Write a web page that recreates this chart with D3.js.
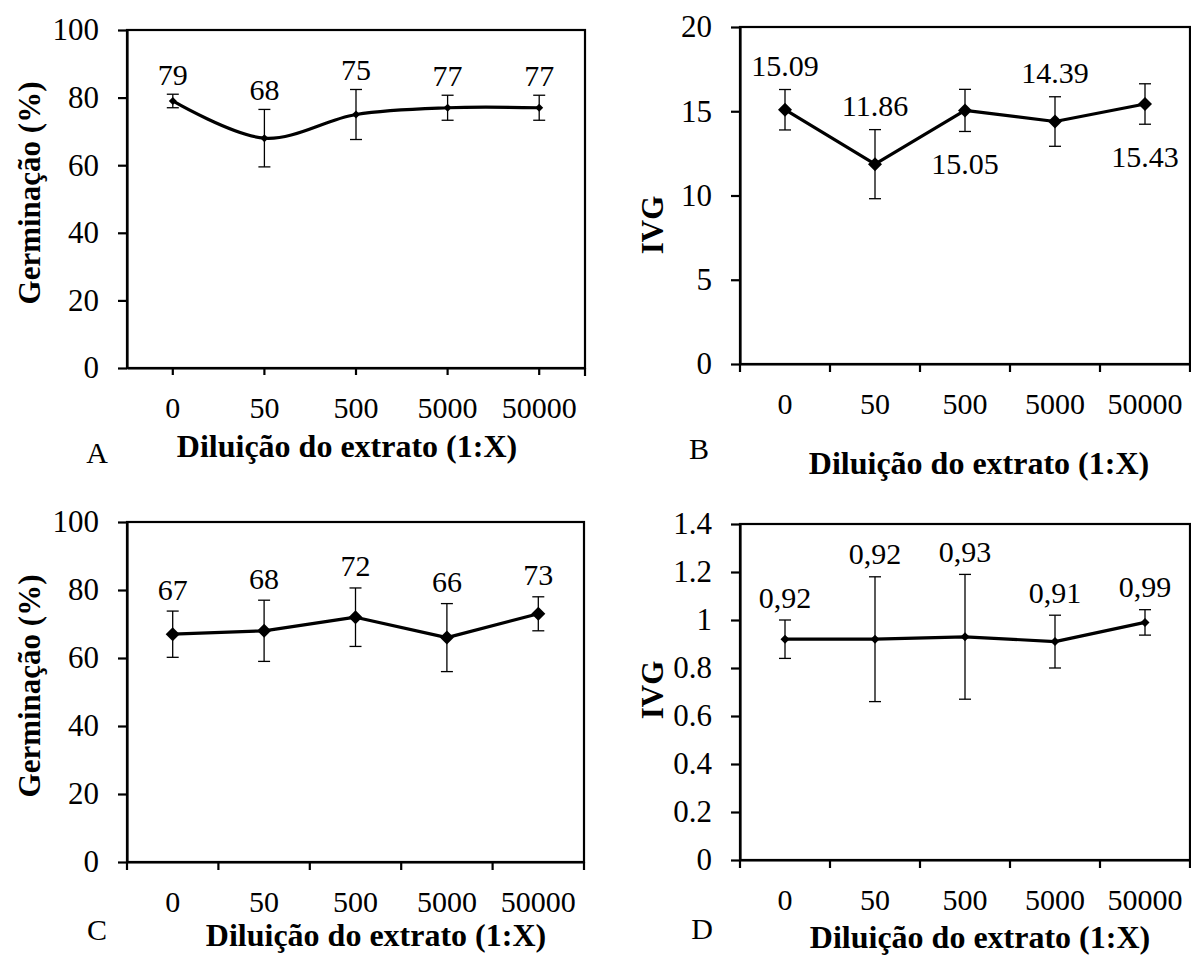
<!DOCTYPE html>
<html>
<head>
<meta charset="utf-8">
<script src="https://cdn.jsdelivr.net/npm/d3@7"></script>
<style>
  body { margin: 0; background: #fff; }
  text { font-family: "Liberation Serif", "Times New Roman", serif; fill: #000; }
</style>
</head>
<body>
<div id="chart"></div>
<script>
// categories (dilution 1:X)
const dilutions = ["0", "50", "500", "5000", "50000"];

// A - germination (%)
const germA = [79, 68, 75, 77, 77];
const germAErr = [2.0, 8.5, 7.4, 3.7, 3.7];
const germALabels = ["79", "68", "75", "77", "77"];

// B - IVG
const ivgB = [15.09, 11.86, 15.05, 14.39, 15.43];
const ivgBErr = [1.2, 2.05, 1.25, 1.47, 1.2];
const ivgBLabels = ["15.09", "11.86", "15.05", "14.39", "15.43"];
const ivgBSide = ["above", "above", "below", "above", "below"];

// C - germination (%)
const germC = [67, 68, 72, 66, 73];
const germCErr = [6.8, 9.0, 8.6, 10.0, 5.0];
const germCLabels = ["67", "68", "72", "66", "73"];

// D - IVG
const ivgD = [0.92, 0.92, 0.93, 0.91, 0.99];
const ivgDErr = [0.08, 0.26, 0.26, 0.11, 0.053];
const ivgDLabels = ["0,92", "0,92", "0,93", "0,91", "0,99"];

// y tick values
const ticksGerm = [0, 20, 40, 60, 80, 100];
const ticksIvgB = [0, 5, 10, 15, 20];
const ticksIvgD = [0, 0.2, 0.4, 0.6, 0.8, 1, 1.2, 1.4];

const xTitle = "Diluição do extrato (1:X)";

let svg = d3.select("#chart").append("svg")
    .attr("width", 1191)
    .attr("height", 956);

// panel layout
let panels = [
    {letter: "A", values: germA, err: germAErr, labels: germALabels, side: null,
     yMax: 100, ticks: ticksGerm, yTitle: "Germinação (%)",
     left: 127, right: 585, top: 30, bottom: 368,
     yTitleX: 29, yTitleY: 193, titleX: 347, titleY: 446, letterX: 97, letterY: 452,
     smooth: true, tickAtCenter: true, marker: 4, gapUp: 20, gapDown: 30},
    {letter: "B", values: ivgB, err: ivgBErr, labels: ivgBLabels, side: ivgBSide,
     yMax: 20, ticks: ticksIvgB, yTitle: "IVG",
     left: 740, right: 1190, top: 27, bottom: 364,
     yTitleX: 652, yTitleY: 225, titleX: 979, titleY: 463, letterX: 699, letterY: 448,
     smooth: false, tickAtCenter: false, marker: 7, gapUp: 24, gapDown: 32},
    {letter: "C", values: germC, err: germCErr, labels: germCLabels, side: null,
     yMax: 100, ticks: ticksGerm, yTitle: "Germinação (%)",
     left: 127, right: 584, top: 522, bottom: 862,
     yTitleX: 29, yTitleY: 686, titleX: 376, titleY: 935, letterX: 97, letterY: 929,
     smooth: false, tickAtCenter: false, marker: 7, gapUp: 22, gapDown: 30},
    {letter: "D", values: ivgD, err: ivgDErr, labels: ivgDLabels, side: null,
     yMax: 1.4, ticks: ticksIvgD, yTitle: "IVG",
     left: 740, right: 1190, top: 524, bottom: 860,
     yTitleX: 652, yTitleY: 690, titleX: 980, titleY: 937, letterX: 702, letterY: 928,
     smooth: false, tickAtCenter: false, marker: 4.5, gapUp: 23, gapDown: 30}
];

panels.forEach(p => drawPanel(p));

function drawPanel(p) {
    let g = svg.append("g");

    let x = d3.scaleBand().domain(dilutions).range([p.left, p.right]);
    let y = d3.scaleLinear().domain([0, p.yMax]).range([p.bottom, p.top]);
    let cx = d => x(d) + x.bandwidth() / 2;

    // plot frame
    g.append("rect")
        .attr("x", p.left).attr("y", p.top)
        .attr("width", p.right - p.left).attr("height", p.bottom - p.top)
        .attr("fill", "none").attr("stroke", "#000").attr("stroke-width", 2.2);

    // y axis
    let yAxis = g.append("g")
        .attr("transform", `translate(${p.left},0)`)
        .call(d3.axisLeft(y).tickValues(p.ticks).tickSize(9).tickSizeOuter(0)
            .tickPadding(19).tickFormat(d => String(+d.toFixed(1))));
    yAxis.select(".domain").attr("stroke-width", 2.2);
    yAxis.selectAll(".tick line").attr("stroke-width", 2.2);
    yAxis.selectAll("text").style("font-size", "31px")
        .style("font-family", "'Liberation Serif', serif");

    // x axis
    let xAxis = g.append("g")
        .attr("transform", `translate(0,${p.bottom})`)
        .call(d3.axisBottom(x).tickSize(p.tickAtCenter ? 7 : 0).tickSizeOuter(0));
    xAxis.select(".domain").attr("stroke-width", 2.2);
    xAxis.selectAll(".tick line").attr("stroke-width", 2.2);
    xAxis.selectAll("text")
        .attr("y", 39).attr("dy", "0.35em")
        .style("font-size", "30px")
        .style("font-family", "'Liberation Serif', serif");

    // extra tick marks (band edges or right end)
    let edges = p.tickAtCenter ? [p.right] : dilutions.map(d => x(d)).concat([p.right]);
    g.selectAll(".edge-tick").data(edges).enter().append("line")
        .attr("x1", d => d).attr("x2", d => d)
        .attr("y1", p.bottom).attr("y2", p.bottom + 8)
        .attr("stroke", "#000").attr("stroke-width", 2.2);

    // error bars
    let data = dilutions.map((d, i) => ({cat: d, v: p.values[i], e: p.err[i], label: p.labels[i],
        side: p.side ? p.side[i] : "above"}));
    let eb = g.selectAll(".err").data(data).enter().append("g");
    eb.append("line")
        .attr("x1", d => cx(d.cat)).attr("x2", d => cx(d.cat))
        .attr("y1", d => y(d.v - d.e)).attr("y2", d => y(d.v + d.e))
        .attr("stroke", "#000").attr("stroke-width", 1.3);
    [1, -1].forEach(s => {
        eb.append("line")
            .attr("x1", d => cx(d.cat) - 6).attr("x2", d => cx(d.cat) + 6)
            .attr("y1", d => y(d.v + s * d.e)).attr("y2", d => y(d.v + s * d.e))
            .attr("stroke", "#000").attr("stroke-width", 1.3);
    });

    // line
    let line = d3.line()
        .x(d => cx(d.cat))
        .y(d => y(d.v))
        .curve(p.smooth ? d3.curveCatmullRom.alpha(0.5) : d3.curveLinear);
    g.append("path").datum(data)
        .attr("d", line)
        .attr("fill", "none").attr("stroke", "#000").attr("stroke-width", 3.2)
        .attr("stroke-linejoin", "round");

    // diamond markers
    let r = p.marker;
    g.selectAll(".mk").data(data).enter().append("path")
        .attr("d", d => {
            let px = cx(d.cat), py = y(d.v);
            return `M${px},${py - r}L${px + r},${py}L${px},${py + r}L${px - r},${py}Z`;
        })
        .attr("fill", "#000");

    // value labels
    g.selectAll(".lbl").data(data).enter().append("text")
        .attr("x", d => cx(d.cat))
        .attr("y", d => d.side === "below" ? y(d.v - d.e) + p.gapDown : y(d.v + d.e) - p.gapUp)
        .attr("dy", "0.35em")
        .attr("text-anchor", "middle")
        .style("font-size", "30px")
        .text(d => d.label);

    // axis titles
    g.append("text")
        .attr("x", p.titleX).attr("y", p.titleY).attr("dy", "0.35em")
        .attr("text-anchor", "middle")
        .style("font-size", "32px").style("font-weight", "bold")
        .text(xTitle);

    g.append("text")
        .attr("transform", `translate(${p.yTitleX},${p.yTitleY}) rotate(-90)`)
        .attr("dy", "0.35em")
        .attr("text-anchor", "middle")
        .style("font-size", "31px").style("font-weight", "bold")
        .text(p.yTitle);

    // panel letter
    g.append("text")
        .attr("x", p.letterX).attr("y", p.letterY).attr("dy", "0.35em")
        .attr("text-anchor", "middle")
        .style("font-size", "30px")
        .text(p.letter);
}
</script>
</body>
</html>
